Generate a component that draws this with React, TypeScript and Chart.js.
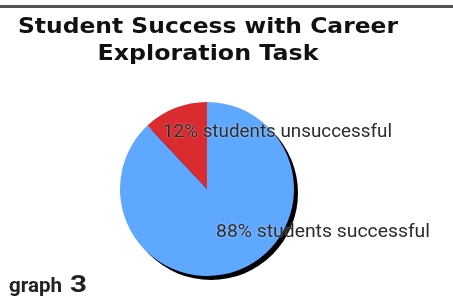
import React, { useEffect, useRef } from "react";
import { Chart, registerables } from "chart.js";

Chart.register(...registerables);

const categories = ["students successful", "students unsuccessful"];
const values = [88, 12];
const colors = ["#5fa8ff", "#d92b30"];
const titleLines = ["Student Success with Career", "Exploration Task"];
const captionWord = "graph";
const captionNumber = "3";

function drawScaled(ctx: CanvasRenderingContext2D, text: string, x: number, y: number, font: string, targetWidth: number | null, align: "left" | "center" = "left") {
  ctx.save();
  ctx.font = font;
  const w = ctx.measureText(text).width;
  const sx = targetWidth ? targetWidth / w : 1;
  ctx.translate(x, y);
  ctx.scale(sx, 1);
  ctx.textAlign = align;
  ctx.textBaseline = "alphabetic";
  ctx.fillText(text, 0, 0);
  ctx.restore();
}

const decorPlugin = {
  id: "decor",
  beforeDatasetsDraw(chart: any) {
    const ctx = chart.ctx as CanvasRenderingContext2D;
    // top rule
    ctx.save();
    ctx.fillStyle = "#58504d";
    ctx.fillRect(0, 5, chart.width, 3);
    ctx.restore();
    // title
    ctx.save();
    ctx.fillStyle = "#111";
    drawScaled(ctx, titleLines[0], 208, 33, "bold 22px 'DejaVu Sans'", 380, "center");
    drawScaled(ctx, titleLines[1], 208, 60, "bold 22px 'DejaVu Sans'", 221, "center");
    ctx.restore();
    // shadow
    const arc = chart.getDatasetMeta(0).data[0];
    if (arc) {
      ctx.save();
      ctx.fillStyle = "#000";
      ctx.beginPath();
      ctx.arc(arc.x + 4, arc.y + 4, arc.outerRadius, 0, Math.PI * 2);
      ctx.fill();
      ctx.restore();
    }
  },
  afterDatasetsDraw(chart: any) {
    const ctx = chart.ctx as CanvasRenderingContext2D;
    const arc = chart.getDatasetMeta(0).data[0];
    const cx = arc.x;
    const cy = arc.y;
    ctx.save();
    ctx.fillStyle = "#2b2b2b";
    ctx.shadowColor = "rgba(255,255,255,0.6)";
    ctx.shadowBlur = 2;
    const font = "19px Roboto";
    drawScaled(ctx, `${values[1]}% ${categories[1]}`, cx - 44, cy - 52, font, 229);
    drawScaled(ctx, `${values[0]}% ${categories[0]}`, cx + 9, cy + 48, font, 214);
    ctx.restore();
    // caption
    ctx.save();
    ctx.fillStyle = "#222";
    drawScaled(ctx, captionWord, 9, 292, "bold 20px Roboto", 53);
    drawScaled(ctx, captionNumber, 70, 292, "bold 24px Roboto", 17);
    ctx.restore();
  },
};

export default function App() {
  const ref = useRef<HTMLCanvasElement>(null);
  useEffect(() => {
    document.body.style.margin = "0";
    const chart = new Chart(ref.current!, {
      type: "pie",
      data: {
        labels: categories,
        datasets: [
          {
            data: values,
            backgroundColor: colors,
            borderWidth: 0,
          },
        ],
      },
      options: {
        responsive: false,
        animation: false,
        layout: { padding: { left: 120, right: 159, top: 102, bottom: 20 } },
        plugins: {
          legend: { display: false },
          tooltip: { enabled: false },
          title: { display: false },
        },
      },
      plugins: [decorPlugin],
    });
    return () => chart.destroy();
  }, []);
  return (
    <div style={{ width: 453, height: 296, background: "#fff" }}>
      <canvas ref={ref} width={453} height={296} />
    </div>
  );
}
